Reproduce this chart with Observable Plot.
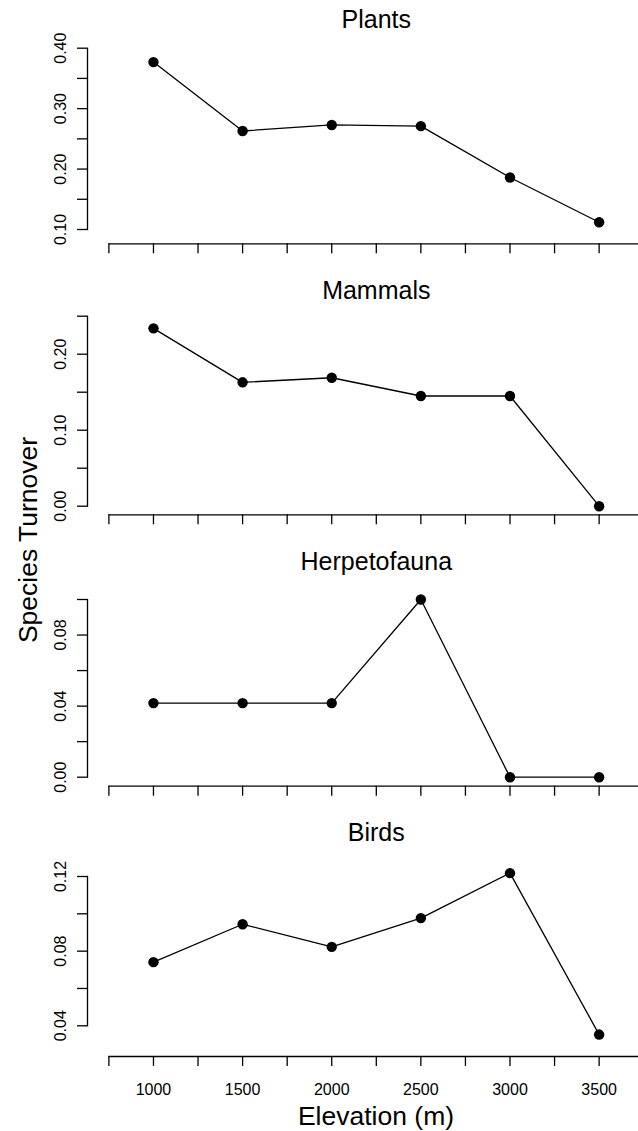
<!DOCTYPE html>
<html>
<head>
<meta charset="utf-8">
<script src="https://cdn.jsdelivr.net/npm/d3@7"></script>
<script src="https://cdn.jsdelivr.net/npm/@observablehq/plot@0.6"></script>
<style>
  html, body { margin: 0; padding: 0; background: #fff; overflow: hidden; }
  #chart { position: relative; width: 638px; height: 1131px; background: #fff; }
  #chart svg { position: absolute; left: 0; }
  #chart g[aria-label="y-axis tick label"], #chart g[aria-label="x-axis tick label"] { font-size: 16px; }
</style>
</head>
<body>
<div id="chart"></div>
<script>
// ---- data ----
const elevation = [1000, 1500, 2000, 2500, 3000, 3500];
const plants = [0.377, 0.263, 0.273, 0.271, 0.186, 0.112];
const mammals = [0.234, 0.163, 0.169, 0.145, 0.145, 0.000];
const herpetofauna = [0.0417, 0.0417, 0.0417, 0.100, 0.000, 0.000];
const birds = [0.0741, 0.0944, 0.0823, 0.0977, 0.1218, 0.0353];

const groups = ["Plants", "Mammals", "Herpetofauna", "Birds"];

// ---- ticks ----
const xTicks = [750, 1000, 1250, 1500, 1750, 2000, 2250, 2500, 2750, 3000, 3250, 3500, 3750];
const xTickLabels = [1000, 1500, 2000, 2500, 3000, 3500];
const plantsTicks = [0.10, 0.15, 0.20, 0.25, 0.30, 0.35, 0.40];
const plantsLabels = [0.10, 0.20, 0.30, 0.40];
const mammalsTicks = [0.00, 0.05, 0.10, 0.15, 0.20, 0.25];
const mammalsLabels = [0.00, 0.10, 0.20];
const herpTicks = [0.00, 0.02, 0.04, 0.06, 0.08, 0.10];
const herpLabels = [0.00, 0.04, 0.08];
const birdsTicks = [0.04, 0.06, 0.08, 0.10, 0.12];
const birdsLabels = [0.04, 0.08, 0.12];

const yLabel = "Species Turnover";
const xLabel = "Elevation (m)";

// ---- panels ----
const series = [plants, mammals, herpetofauna, birds];
const yTicks = [plantsTicks, mammalsTicks, herpTicks, birdsTicks];
const yLabels = [plantsLabels, mammalsLabels, herpLabels, birdsLabels];

// layout (pixels)
const layout = [
  {top: 0,   height: 271, mt: 47.7, mb: 42.0,  gap: 14.3},
  {top: 271, height: 271, mt: 44.7, mb: 36.3,  gap: 8.6},
  {top: 542, height: 271, mt: 57.0, mb: 36.3,  gap: 9.0},
  {top: 813, height: 318, mt: 63.0, mb: 105.7, gap: 30.7}
];

const FONT = "'Liberation Sans', Arial, Helvetica, sans-serif";
const fmt = d3.format(".2f");
const near = (arr, v) => arr.some(a => Math.abs(a - v) < 1e-9);
const chart = document.getElementById("chart");

groups.forEach((name, i) => {
  const L = layout[i];
  const last = i === groups.length - 1;
  const data = elevation.map((e, j) => ({elevation: e, turnover: series[i][j]}));
  const ticks = yTicks[i];
  const labels = yLabels[i];
  const svg = Plot.plot({
    width: 638,
    height: L.height,
    marginTop: L.mt,
    marginBottom: L.mb,
    marginLeft: 87,
    marginRight: 0,
    style: {fontFamily: FONT, fontSize: "16px", color: "black", background: "white"},
    x: {domain: [xTicks[0], xTicks[xTicks.length - 1]], range: [108.4, 643.2]},
    y: {domain: [ticks[0], ticks[ticks.length - 1]]},
    marks: [
      Plot.frame({anchor: "left", stroke: "black", strokeWidth: 1.3}),
      Plot.axisY({
        ticks: ticks, tickSize: 10, tickPadding: 12, tickRotate: -90,
        tickFormat: d => near(labels, d) ? fmt(d) : "",
        label: null, strokeWidth: 1.3, fontSize: 16
      }),
      Plot.ruleY([ticks[0]], {x1: xTicks[0], x2: xTicks[xTicks.length - 1], dy: L.gap, stroke: "black", strokeWidth: 1.3}),
      Plot.axisX({
        ticks: xTicks, tickSize: 10, tickPadding: 17.4, dy: L.gap,
        tickFormat: d => (last && xTickLabels.includes(d)) ? String(d) : "",
        label: null, strokeWidth: 1.3, fontSize: 16
      }),
      Plot.line(data, {x: "elevation", y: "turnover", stroke: "black", strokeWidth: 1.3}),
      Plot.dot(data, {x: "elevation", y: "turnover", r: 5.2, fill: "black"}),
      Plot.text([name], {
        x: (xTicks[0] + xTicks[xTicks.length - 1]) / 2,
        frameAnchor: "top", dy: 27.7 - L.mt, lineAnchor: "bottom",
        text: d => d, fontSize: 25, fill: "black"
      })
    ]
  });
  svg.style.position = "absolute";
  svg.style.top = L.top + "px";
  svg.style.left = "0px";
  chart.appendChild(svg);
});

// global axis titles
const overlay = d3.select(chart).append("svg")
  .attr("width", 638).attr("height", 1131)
  .style("position", "absolute").style("top", "0px").style("left", "0px")
  .style("pointer-events", "none")
  .style("background", "transparent");
overlay.append("text")
  .attr("x", 37.3).attr("y", 540)
  .attr("transform", "rotate(-90, 37.3, 540)")
  .attr("text-anchor", "middle")
  .attr("font-family", FONT).attr("font-size", 26.5).attr("fill", "black")
  .text(yLabel);
overlay.append("text")
  .attr("x", 376).attr("y", 1124.5)
  .attr("text-anchor", "middle")
  .attr("font-family", FONT).attr("font-size", 26.5).attr("fill", "black")
  .text(xLabel);
</script>
</body>
</html>
